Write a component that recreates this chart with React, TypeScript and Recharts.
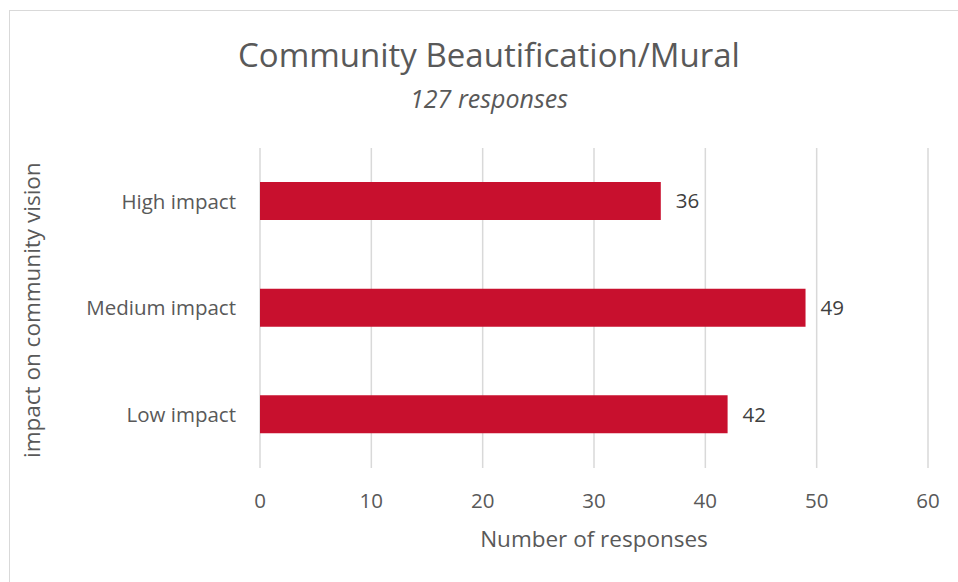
import { BarChart, Bar, XAxis, YAxis, CartesianGrid, LabelList } from 'recharts'

const categories = ['High impact', 'Medium impact', 'Low impact']
const responses = [36, 49, 42]
const xTicks = [0, 10, 20, 30, 40, 50, 60]

const data = categories.map((name, i) => ({ name, responses: responses[i] }))

const FONT = '"Open Sans", sans-serif'
const TEXT = '#595959'

export default function App() {
  return (
    <div
      style={{
        position: 'absolute',
        left: 0,
        top: 0,
        width: 958,
        height: 582,
        overflow: 'hidden',
        background: '#fff',
        fontFamily: FONT,
      }}
    >
      {/* chart frame: only top and left edges fall inside the picture */}
      <div
        style={{
          position: 'absolute',
          left: 9,
          top: 10,
          width: 1000,
          height: 700,
          border: '1px solid #d9d9d9',
        }}
      />
      <div
        style={{
          position: 'absolute',
          left: 0,
          width: 978,
          top: 32,
          textAlign: 'center',
          fontSize: 33,
          color: TEXT,
          lineHeight: '46px',
        }}
      >
        Community Beautification/Mural
      </div>
      <div
        style={{
          position: 'absolute',
          left: 0,
          width: 978,
          top: 81,
          textAlign: 'center',
          fontSize: 25,
          fontStyle: 'italic',
          color: TEXT,
          lineHeight: '34px',
        }}
      >
        127 responses
      </div>
      <div style={{ position: 'absolute', left: 0, top: 0 }}>
        <BarChart
          width={958}
          height={582}
          data={data}
          layout="vertical"
          margin={{ top: 148, right: 30, bottom: 0, left: 0 }}
          barSize={38}
        >
          <CartesianGrid horizontal={false} stroke="#d9d9d9" strokeWidth={1.5} />
          <XAxis
            type="number"
            domain={[0, 60]}
            ticks={xTicks}
            axisLine={false}
            tickLine={false}
            height={114}
            tickMargin={19}
            tick={{ fill: TEXT, fontSize: 20.5, fontFamily: FONT }}
            label={{
              value: 'Number of responses',
              position: 'insideBottom',
              offset: 35,
              fill: TEXT,
              fontSize: 22.5,
              fontFamily: FONT,
            }}
          />
          <YAxis
            type="category"
            dataKey="name"
            width={260}
            axisLine={false}
            tickLine={false}
            tickMargin={18}
            tick={{ fill: TEXT, fontSize: 20.5, fontFamily: FONT }}
            label={{
              value: 'impact on community vision',
              angle: -90,
              position: 'insideLeft',
              offset: 32,
              dy: 150,
              fill: TEXT,
              fontSize: 22.5,
              fontFamily: FONT,
            }}
          />
          <Bar dataKey="responses" fill="#c8102e" isAnimationActive={false}>
            <LabelList
              dataKey="responses"
              position="right"
              offset={15}
              fill="#404040"
              fontSize={20.5}
              fontFamily={FONT}
            />
          </Bar>
        </BarChart>
      </div>
    </div>
  )
}
